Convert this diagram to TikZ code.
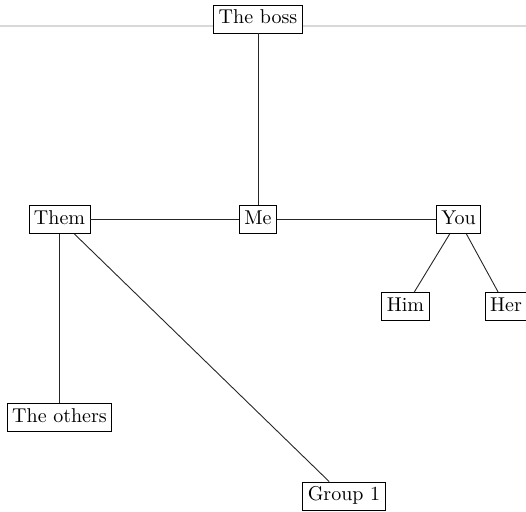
\documentclass[tikz,border=0pt]{standalone}
\usepackage{tikz}
\definecolor{rule}{HTML}{D9D9D9}

\begin{document}
\begin{tikzpicture}[x=0.5pt,y=-0.5pt,
    person/.style={draw,fill=white,inner sep=2.5pt,text height=7pt,text depth=2pt},
    link/.style={draw=black!85,line width=0.45pt}]
    \useasboundingbox (0,0) rectangle (526,512);
    % thin rule across the top
    \draw[draw=rule,line width=0.7pt] (0,26) -- (526,26);

    \foreach \n/\x/\y/\lab in {%
      boss/258/19/{The boss},
      me/258/219.5/{Me},
      them/59.5/219.5/{Them},
      you/458.5/219.5/{You},
      him/405.5/306.5/{Him},
      her/506/306.5/{Her},
      others/59.5/417.5/{The others},
      group/344/496/{Group 1}}{
      \node[person] (\n) at (\x,\y) {\lab};}

    \foreach \a/\b in {boss/me,me/them,me/you,you/him,you/her,them/others,them/group}
      \draw[link] (\a) -- (\b);
  \end{tikzpicture}
\end{document}
